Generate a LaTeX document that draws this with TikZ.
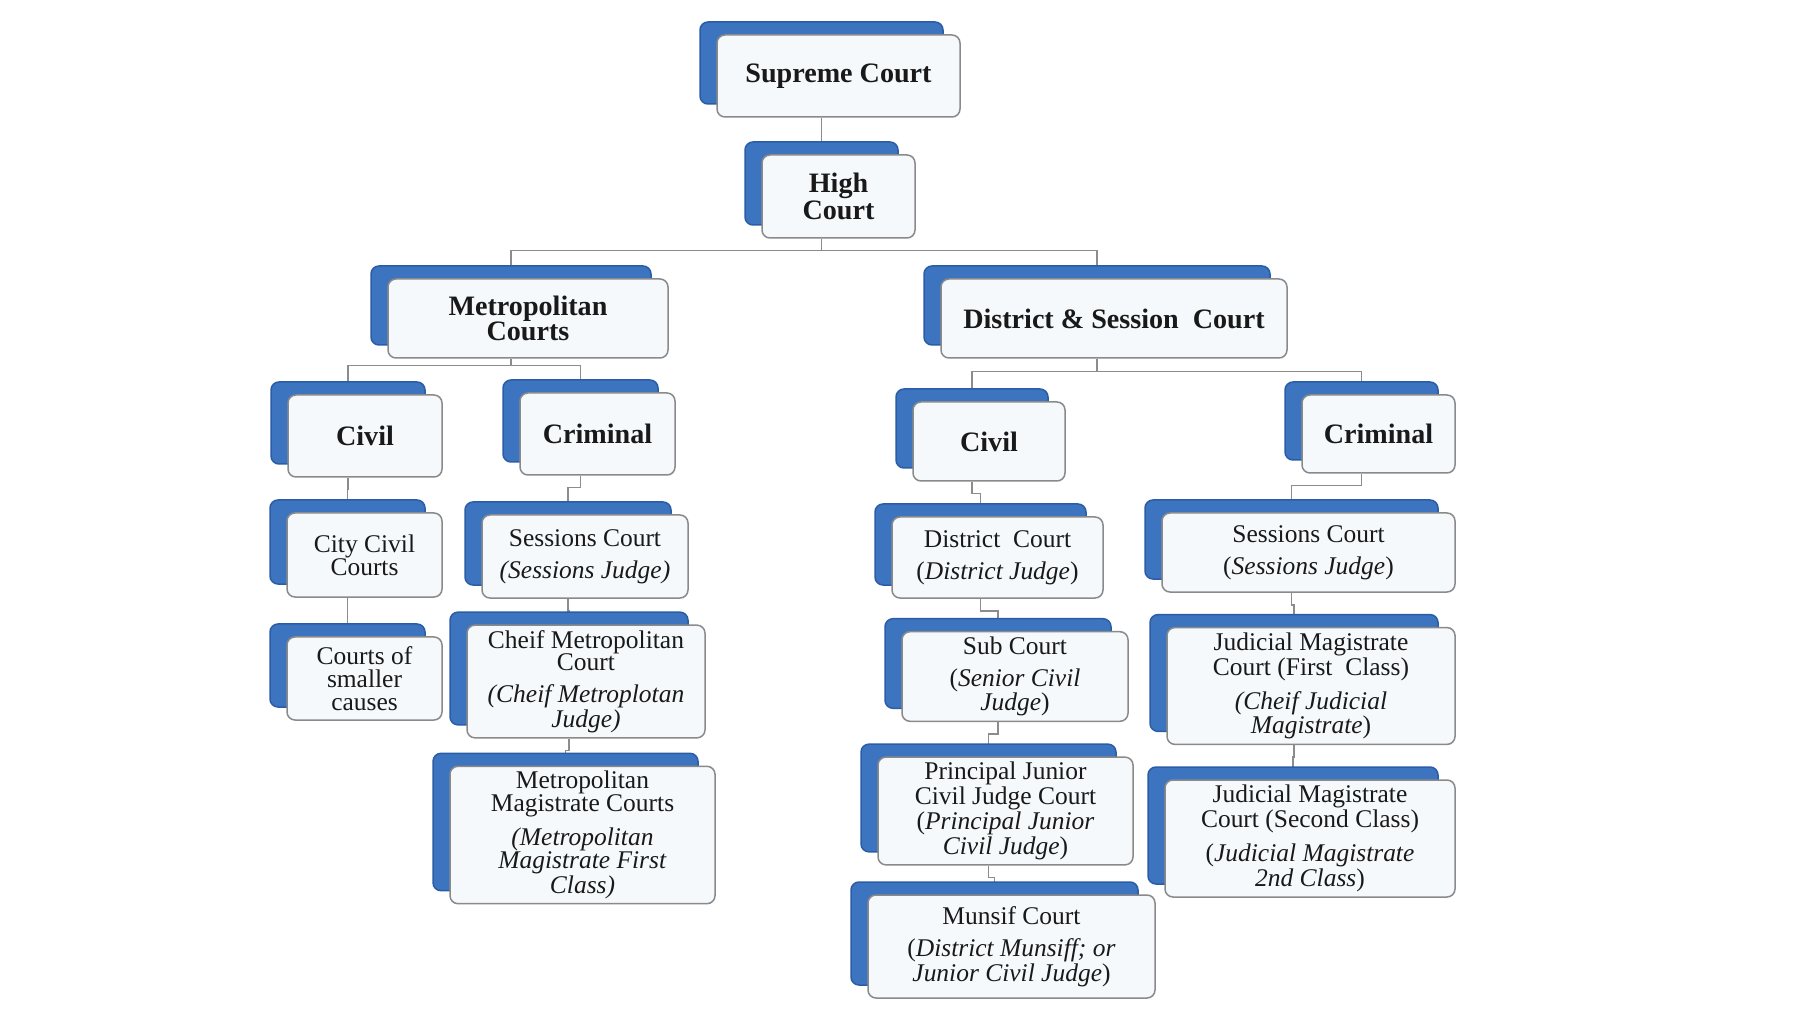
\documentclass[tikz,border=0pt]{standalone}
\usepackage{fontspec}
\setmainfont{Liberation Serif}
\usetikzlibrary{shadows,backgrounds}
\definecolor{tabblue}{HTML}{3C74C0}
\definecolor{tabedge}{HTML}{2B5DA6}
\definecolor{boxfill}{HTML}{F6F9FC}
\definecolor{boxline}{HTML}{8A8A8A}
\definecolor{wire}{HTML}{8C8C8C}
\tikzset{court/.style={draw=boxline,fill=boxfill,line width=0.3mm,rounded corners=1.6mm,align=center,inner sep=1mm,text=black!90,font=\fontsize{14.5}{13}\selectfont,general shadow={shadow xshift=-3.4mm,shadow yshift=2.6mm,fill=tabblue,draw=tabedge,line width=0.3mm}},head/.style={court,font=\bfseries\fontsize{16}{14}\selectfont},link/.style={draw=wire,line width=0.3mm},elbow/.style={to path={([xshift=-3.4mm]\tikztostart.south) -- ++(0mm,-#1) -| ([xshift=-3.4mm]\tikztotarget.north)}},elbow/.default=2.4mm}

\begin{document}
\begin{tikzpicture}[x=0.2mm,y=-0.2mm]
\useasboundingbox (0,0) rectangle (1800,1012);
% top of the tree
\node[head,minimum width=48.6mm,minimum height=16.4mm] (sc) at (838.5,76) {Supreme Court};
\node[head,minimum width=30.6mm,minimum height=16.6mm] (hc) at (838.5,196.5) {High\\Court};
\node[head,minimum width=56mm,minimum height=15.8mm] (mc) at (528,318.5) {Metropolitan\\Courts};
\node[head,minimum width=69.2mm,minimum height=15.8mm] (dsc) at (1114,318.5) {District \& Session\ \ Court};
% metropolitan side
\node[head,minimum width=30.8mm,minimum height=16.4mm] (mciv) at (365,436) {Civil};
\node[head,minimum width=31mm,minimum height=16.4mm] (mcrim) at (597.5,434) {Criminal};
\node[court,minimum width=31mm,minimum height=16.8mm] (ccc) at (364.5,555) {City Civil\\Courts};
\node[court,minimum width=31mm,minimum height=16.6mm] (scc) at (364.5,678.5) {Courts of\\smaller\\causes};
\node[court,minimum width=41.2mm,minimum height=16.6mm] (msess) at (585,556.5) {Sessions Court\\[5pt]\textit{(Sessions Judge)}};
\node[court,minimum width=47.6mm,minimum height=21.4mm] (cmc) at (586,681.5) {Cheif Metropolitan\\Court\\[5pt]\textit{(Cheif Metroplotan}\\\textit{Judge)}};
\node[court,minimum width=53mm,minimum height=24mm] (mmc) at (582.5,835) {Metropolitan\\Magistrate Courts\\[5pt]\textit{(Metropolitan}\\\textit{Magistrate First}\\\textit{Class)}};
% district side
\node[head,minimum width=30.4mm,minimum height=15.8mm] (dciv) at (989,441.5) {Civil};
\node[head,minimum width=30.6mm,minimum height=15.6mm] (dcrim) at (1378.5,434) {Criminal};
\node[court,minimum width=42.2mm,minimum height=16.2mm] (dc) at (997.5,557.5) {District\ \ Court\\[5pt](\textit{District Judge})};
\node[court,minimum width=45.2mm,minimum height=16.6mm] (sub) at (1015,676.5) {Sub Court\\[5pt](\textit{Senior Civil}\\\textit{Judge})};
\node[court,minimum width=51mm,minimum height=19.6mm] (pjc) at (1005.5,811) {Principal Junior\\Civil Judge Court\\(\textit{Principal Junior}\\\textit{Civil Judge})};
\node[court,minimum width=57.4mm,minimum height=20.6mm] (mun) at (1011.5,946.5) {Munsif Court\\[5pt](\textit{District Munsiff; or}\\\textit{Junior Civil Judge})};
\node[court,minimum width=58.6mm,minimum height=15.8mm] (dsess) at (1308.5,552.5) {Sessions Court\\[5pt](\textit{Sessions Judge})};
\node[court,minimum width=57.6mm,minimum height=22.4mm] (jm1) at (1311,686) {Judicial Magistrate\\Court (First\ \ Class)\\[5pt]\textit{(Cheif Judicial}\\\textit{Magistrate})};
\node[court,minimum width=58mm,minimum height=23.4mm] (jm2) at (1310,838.5) {Judicial Magistrate\\Court (Second Class)\\[5pt](\textit{Judicial Magistrate}\\\textit{2nd Class})};
\begin{scope}[on background layer]
\fill[white] (0,0) rectangle (1800,1012);
\draw[link] (sc) to[elbow] (hc);
\draw[link] (hc) to[elbow] (mc);
\draw[link] (hc) to[elbow] (dsc);
\draw[link] (mc) to[elbow=1.4mm] (mciv);
\draw[link] (mc) to[elbow=1.4mm] (mcrim);
\draw[link] (dsc) to[elbow=2.6mm] (dciv);
\draw[link] (dsc) to[elbow=2.6mm] (dcrim);
\draw[link] (mciv) to[elbow] (ccc);
\draw[link] (ccc) to[elbow] (scc);
\draw[link] (mcrim) to[elbow] (msess);
\draw[link] (msess) to[elbow] (cmc);
\draw[link] (cmc) to[elbow] (mmc);
\draw[link] (dciv) to[elbow] (dc);
\draw[link] (dc) to[elbow] (sub);
\draw[link] (sub) to[elbow] (pjc);
\draw[link] (pjc) to[elbow] (mun);
\draw[link] (dcrim) to[elbow] (dsess);
\draw[link] (dsess) to[elbow] (jm1);
\draw[link] (jm1) to[elbow] (jm2);
\end{scope}
\end{tikzpicture}
\end{document}
